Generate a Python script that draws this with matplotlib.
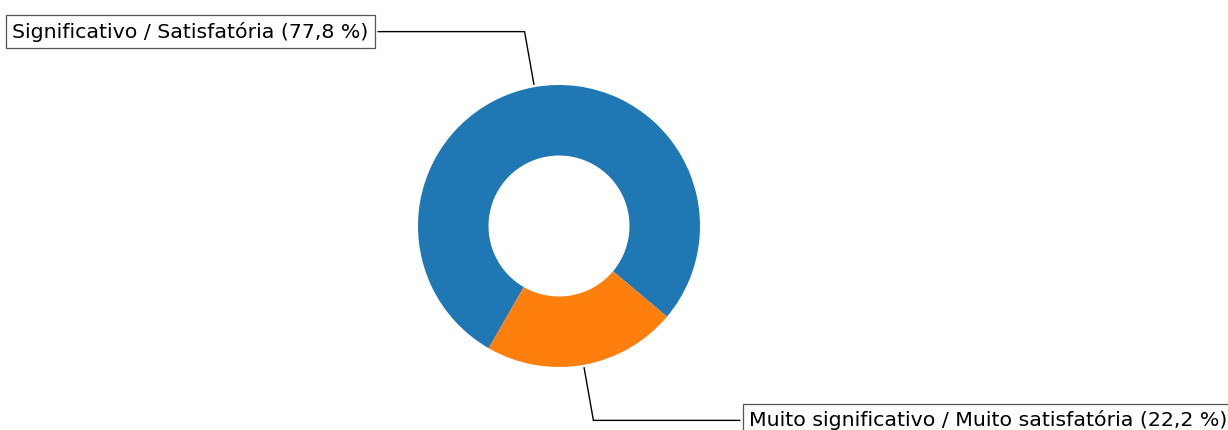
import numpy as np
import matplotlib.pyplot as plt

labels = ["Significativo / Satisfatória (77,8 %)",
          "Muito significativo / Muito satisfatória (22,2 %)"]
values = [77.8, 22.2]
colors = ["#1f77b4", "#ff7f0e"]

fig = plt.figure(figsize=(12.28, 4.30), dpi=100)
ax = fig.add_axes([0, 0, 1, 1])

wedges, _ = ax.pie(values, colors=colors, startangle=-40,
                   wedgeprops=dict(width=0.5))

bbox_props = dict(boxstyle="square,pad=0.3", fc="w", ec="#555555", lw=0.9)
kw = dict(arrowprops=dict(arrowstyle="-", lw=1.0), bbox=bbox_props, zorder=0,
          va="center", fontsize=14.75, family="DejaVu Sans")

for i, p in enumerate(wedges):
    ang = (p.theta2 - p.theta1) / 2. + p.theta1
    y = np.sin(np.deg2rad(ang))
    x = np.cos(np.deg2rad(ang))
    ha = {-1: "right", 1: "left"}[int(np.sign(x))]
    kw["arrowprops"].update({"connectionstyle": f"angle,angleA=0,angleB={ang}"})
    ax.annotate(labels[i], xy=(x, y), xytext=(1.35 * np.sign(x), 1.4 * y),
                ha=ha, **kw)

# 1 unit = 141 px, centre of the donut at (559, 226) px
ax.set_aspect("auto")
ax.set_xlim(-559 / 141, (1228 - 559) / 141)
ax.set_ylim(-204 / 141, 226 / 141)
ax.axis("off")

plt.savefig("out.png")
